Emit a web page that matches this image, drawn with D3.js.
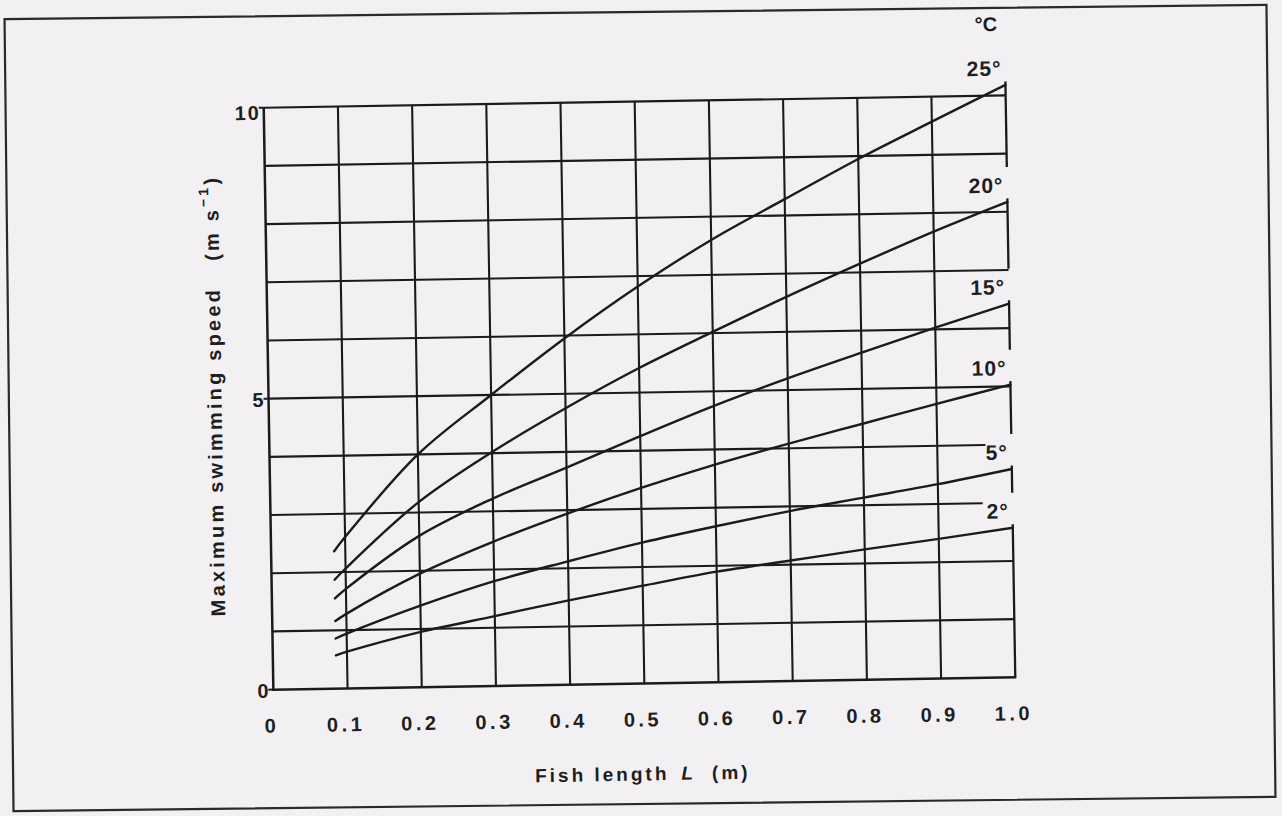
<!DOCTYPE html>
<html>
<head>
<meta charset="utf-8">
<script src="https://cdn.jsdelivr.net/npm/d3@7"></script>
<style>
  html, body { margin: 0; padding: 0; background: #f3f0f3; }
  svg { display: block; }
  text { font-family: "Liberation Sans", Arial, Helvetica, sans-serif; font-weight: bold; fill: #1e1e1e; }
</style>
</head>
<body>
<svg id="chart" width="1282" height="816"></svg>
<script>
// Fish length L (m) at which each curve is sampled
const lengths = [0.085, 0.1, 0.2, 0.3, 0.4, 0.5, 0.6, 0.7, 0.8, 0.9, 1.0];

// Maximum swimming speed (m s^-1) per water temperature
const speed25 = [2.36, 2.60, 4.00, 5.00, 5.95, 6.82, 7.60, 8.28, 8.95, 9.57, 10.18];
const speed20 = [1.87, 2.06, 3.18, 4.02, 4.75, 5.42, 6.02, 6.60, 7.15, 7.68, 8.17];
const speed15 = [1.55, 1.71, 2.60, 3.22, 3.73, 4.25, 4.75, 5.20, 5.62, 6.03, 6.42];
const speed10 = [1.16, 1.28, 1.95, 2.48, 2.94, 3.36, 3.74, 4.08, 4.40, 4.72, 5.03];
const speed5  = [0.86, 0.94, 1.40, 1.80, 2.12, 2.42, 2.68, 2.92, 3.13, 3.34, 3.58];
const speed2  = [0.57, 0.63, 0.95, 1.20, 1.45, 1.68, 1.90, 2.07, 2.24, 2.40, 2.57];

const curveLabels = ["25°", "20°", "15°", "10°", "5°", "2°"];
const curveValues = [speed25, speed20, speed15, speed10, speed5, speed2];

const xTickLabels = ["0", "0.1", "0.2", "0.3", "0.4", "0.5", "0.6", "0.7", "0.8", "0.9", "1.0"];
const yTickLabels = ["0", "5", "10"];
const yGridValues = [1, 2, 3, 4, 5, 6, 7, 8, 9, 10];
// rows whose rule stops short of the right edge (value -> length where it stops)
const trimmedRows = new Map([[4, 0.965], [3, 0.96]]);

const W = 1282, H = 816;
const plot = { left: 268.5, top: 101.5, width: 742, height: 582 };
const ink = "#1b1b1b";

const svg = d3.select("#chart");
svg.append("rect").attr("width", W).attr("height", H).attr("fill", "#f3f0f3");

// outer border
svg.append("rect")
  .attr("x", 9).attr("y", 12).attr("width", 1262).attr("height", 792)
  .attr("fill", "none").attr("stroke", "#2a2a2a").attr("stroke-width", 2.2)
  .attr("transform", "rotate(-0.65,640,408)");

const cx = plot.left + plot.width / 2, cy = plot.top + plot.height / 2;
const g = svg.append("g")
  .attr("transform", `rotate(-0.95,${cx},${cy}) translate(${plot.left},${plot.top})`);

const x = d3.scaleLinear().domain([0, 1]).range([0, plot.width]);
const y = d3.scaleLinear().domain([0, 10]).range([plot.height, 0]);

const xVals = xTickLabels.map(Number);

// vertical rules
g.append("g").selectAll("line")
  .data(xVals.filter(v => v > 0 && v < 1))
  .join("line")
  .attr("x1", d => x(d)).attr("x2", d => x(d))
  .attr("y1", y(0)).attr("y2", y(10))
  .attr("stroke", ink).attr("stroke-width", 2.1);

// horizontal rules
g.append("g").selectAll("line")
  .data(yGridValues)
  .join("line")
  .attr("x1", x(0)).attr("x2", d => x(trimmedRows.get(d) ?? 1))
  .attr("y1", d => y(d)).attr("y2", d => y(d))
  .attr("stroke", ink).attr("stroke-width", 2.1);

// axes
g.append("line").attr("x1", x(0)).attr("x2", x(0)).attr("y1", y(0) + 1).attr("y2", y(10))
  .attr("stroke", ink).attr("stroke-width", 2.5);
g.append("line").attr("x1", x(0) - 1).attr("x2", x(1) + 1).attr("y1", y(0)).attr("y2", y(0))
  .attr("stroke", ink).attr("stroke-width", 2.5);

// y ticks
g.append("g").selectAll("line")
  .data(yTickLabels.map(Number))
  .join("line")
  .attr("x1", x(0) - 5).attr("x2", x(0))
  .attr("y1", d => y(d)).attr("y2", d => y(d))
  .attr("stroke", ink).attr("stroke-width", 2);

// right edge, broken where the temperature labels sit
const ends = curveValues.map(v => v[v.length - 1]);
const edgeSegments = ends.map((e, i) => [e + 0.06, i + 1 < ends.length ? ends[i + 1] + 0.6 : 0]);
g.append("g").selectAll("line")
  .data(edgeSegments)
  .join("line")
  .attr("x1", x(1)).attr("x2", x(1))
  .attr("y1", d => y(d[0])).attr("y2", d => y(d[1]))
  .attr("stroke", ink).attr("stroke-width", 2.3);

// curves
const line = d3.line()
  .x((d, i) => x(lengths[i]))
  .y(d => y(d))
  .curve(d3.curveCatmullRom.alpha(0.5));

g.append("g").selectAll("path")
  .data(curveValues)
  .join("path")
  .attr("d", d => line(d))
  .attr("fill", "none").attr("stroke", ink).attr("stroke-width", 2.4)
  .attr("stroke-linecap", "round");

// temperature labels
g.append("g").selectAll("text")
  .data(curveLabels)
  .join("text")
  .attr("x", x(0.995)).attr("y", (d, i) => y(ends[i] + 0.29))
  .attr("text-anchor", "end").attr("dominant-baseline", "central")
  .attr("font-size", 21).attr("letter-spacing", 1)
  .text(d => d);

g.append("text")
  .attr("x", x(0.975)).attr("y", y(11.23))
  .attr("text-anchor", "middle").attr("dominant-baseline", "central")
  .attr("font-size", 20)
  .text("°C");

// x tick labels
g.append("g").selectAll("text")
  .data(xTickLabels)
  .join("text")
  .attr("x", d => x(+d) - 2)
  .attr("y", plot.height + 36)
  .attr("text-anchor", "middle").attr("dominant-baseline", "central")
  .attr("font-size", 20).attr("letter-spacing", 3.5)
  .text(d => d);

// y tick labels
g.append("g").selectAll("text")
  .data(yTickLabels)
  .join("text")
  .attr("x", x(0) - 3)
  .attr("y", d => y(+d) + (+d === 10 ? 5 : 1))
  .attr("text-anchor", "end").attr("dominant-baseline", "central")
  .attr("font-size", 20).attr("letter-spacing", 2)
  .text(d => d);

// x axis title
const xt = g.append("text")
  .attr("x", plot.width / 2 - 3).attr("y", plot.height + 90)
  .attr("text-anchor", "middle").attr("dominant-baseline", "central")
  .attr("font-size", 19).attr("letter-spacing", 3);
xt.append("tspan").text("Fish length");
xt.append("tspan").attr("dx", 12).attr("font-style", "italic").text("L");
xt.append("tspan").attr("dx", 16).text("(m)");

// y axis title
const yt = g.append("text")
  .attr("transform", `translate(-54,${plot.height / 2 - 4}) rotate(-90)`)
  .attr("text-anchor", "middle").attr("dominant-baseline", "central")
  .attr("font-size", 20).attr("letter-spacing", 3.2);
yt.append("tspan").text("Maximum swimming speed");
yt.append("tspan").attr("dx", 26).text("(m s");
yt.append("tspan").attr("dy", -8).attr("font-size", 14).text("−1");
yt.append("tspan").attr("dy", 8).text(")");
</script>
</body>
</html>
